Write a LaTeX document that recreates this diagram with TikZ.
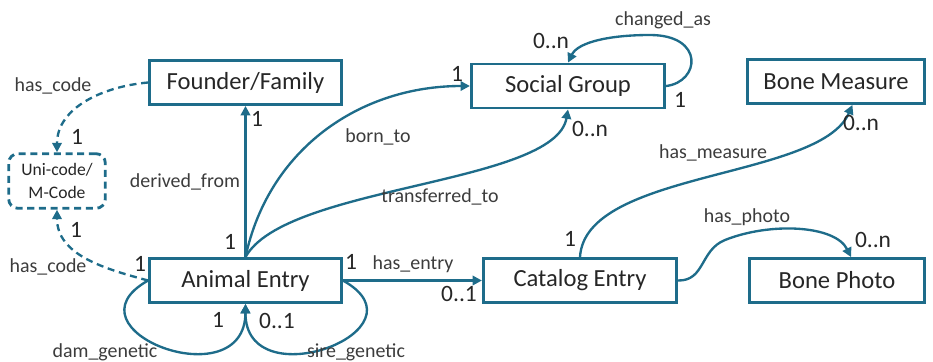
\documentclass[tikz,border=0pt]{standalone}
\usepackage{fontspec}
\setmainfont{Carlito}
\usepackage{xcolor}
\usepackage{tikz}
\usetikzlibrary{positioning,arrows.meta}
\definecolor{relblue}{RGB}{30,108,138}
\definecolor{lblgray}{RGB}{60,60,60}

\begin{document}
\begin{tikzpicture}[x=0.015cm, y=-0.015cm,
  entity/.style={draw=relblue, line width=1.2pt, minimum height=0.66cm, font=\fontsize{10.5}{12}\selectfont, text=black!85},
  rel/.style={relblue, line width=1pt, -{Triangle[length=4pt,width=4pt]}},
  lbl/.style={font=\fontsize{8.5}{10}\selectfont, text=lblgray},
  card/.style={font=\fontsize{10}{12}\selectfont, text=black!85}]
\useasboundingbox (0,0) rectangle (933,361);

\node[entity, minimum width=2.88cm] (founder) at (245.5,82.5) {Founder/Family};
\node[entity, minimum width=2.9cm] (social) at (568,86) {Social Group};
\node[entity, minimum width=2.65cm] (bonemeasure) at (836,81.5) {Bone Measure};
\node[draw=relblue, line width=1.2pt, dashed, dash pattern=on 3pt off 2pt, rounded corners=4pt,
      minimum width=1.45cm, minimum height=0.82cm, align=center,
      font=\fontsize{7.5}{9.5}\selectfont, text=black!85] (unicode) at (57,181) {Uni-code/\\M-Code};
\node[entity, minimum width=2.88cm] (animal) at (245.5,280.5) {Animal Entry};
\node[entity, minimum width=2.9cm] (catalog) at (580,280.5) {Catalog Entry};
\node[entity, minimum width=2.62cm] (bonephoto) at (837,280.5) {Bone Photo};

% codes
\draw[rel, dashed, dash pattern=on 3pt off 2pt] (founder.west) to[out=185,in=90] (unicode.north);
\draw[rel, dashed, dash pattern=on 3pt off 2pt] (animal.west) to[out=165,in=-90] (unicode.south);
\node[lbl] (l_code1) at (53,86) {has\_code};
\node[lbl] (l_code2) at (48,267) {has\_code};
\node[card] (c_code1) at (77,137) {1};
\node[card] (c_code2) at (76,230) {1};
\node[card] (c_code3) at (140,264) {1};

% animal entry relations
\draw[rel] (animal.north) -- (founder.south);
\node[lbl] (l_derived) at (185,182) {derived\_from};
\node[card] (c_der1) at (257,119) {1};
\node[card] (c_der2) at (230,242) {1};

\draw[rel] (animal.north) to[out=78,in=180] (social.west);
\node[lbl] (l_born) at (378,137) {born\_to};
\node[card] (c_born) at (457,74) {1};

\draw[rel] (animal.north) .. controls (285,185) and (555,185) .. (social.south);
\node[lbl] (l_transf) at (440,197) {transferred\_to};
\node[card] (c_transf) at (590,129) {0..n};

\draw[rel] (social.east) .. controls (700,82) and (705,35) .. (650,35)
  .. controls (610,35) and (578,42) .. (social.north);
\node[lbl] (l_changed) at (663,20) {changed\_as};
\node[card] (c_ch1) at (551,41) {0..n};
\node[card] (c_ch2) at (680,100) {1};

\draw[rel] (animal.east) -- (catalog.west);
\node[lbl] (l_entry) at (413,264) {has\_entry};
\node[card] (c_ent1) at (351,262) {1};
\node[card] (c_ent2) at (459,294) {0..1};

% catalog entry relations
\draw[rel] (catalog.north) .. controls (585,170) and (820,180) .. ([xshift=7]bonemeasure.south);
\node[lbl] (l_measure) at (713,153) {has\_measure};
\node[card] (c_meas1) at (570,239) {1};
\node[card] (c_meas2) at (861,123) {0..n};

\draw[rel] (catalog.east) .. controls (705,281) and (700,250) .. (725,240)
  .. controls (770,222) and (835,225) .. ([xshift=6]bonephoto.north);
\node[lbl] (l_photo) at (747,217) {has\_photo};
\node[card] (c_photo) at (873,240) {0..n};

% genetic loops
\draw[rel] (animal.west) .. controls (60,330) and (245,400) .. (animal.south);
\draw[rel] (animal.east) .. controls (432,330) and (245,400) .. (animal.south);
\node[lbl] (l_dam) at (105,352) {dam\_genetic};
\node[lbl] (l_sire) at (356,352) {sire\_genetic};
\node[card] (c_dam) at (218,320) {1};
\node[card] (c_sire) at (277,321) {0..1};

\end{tikzpicture}
\end{document}
